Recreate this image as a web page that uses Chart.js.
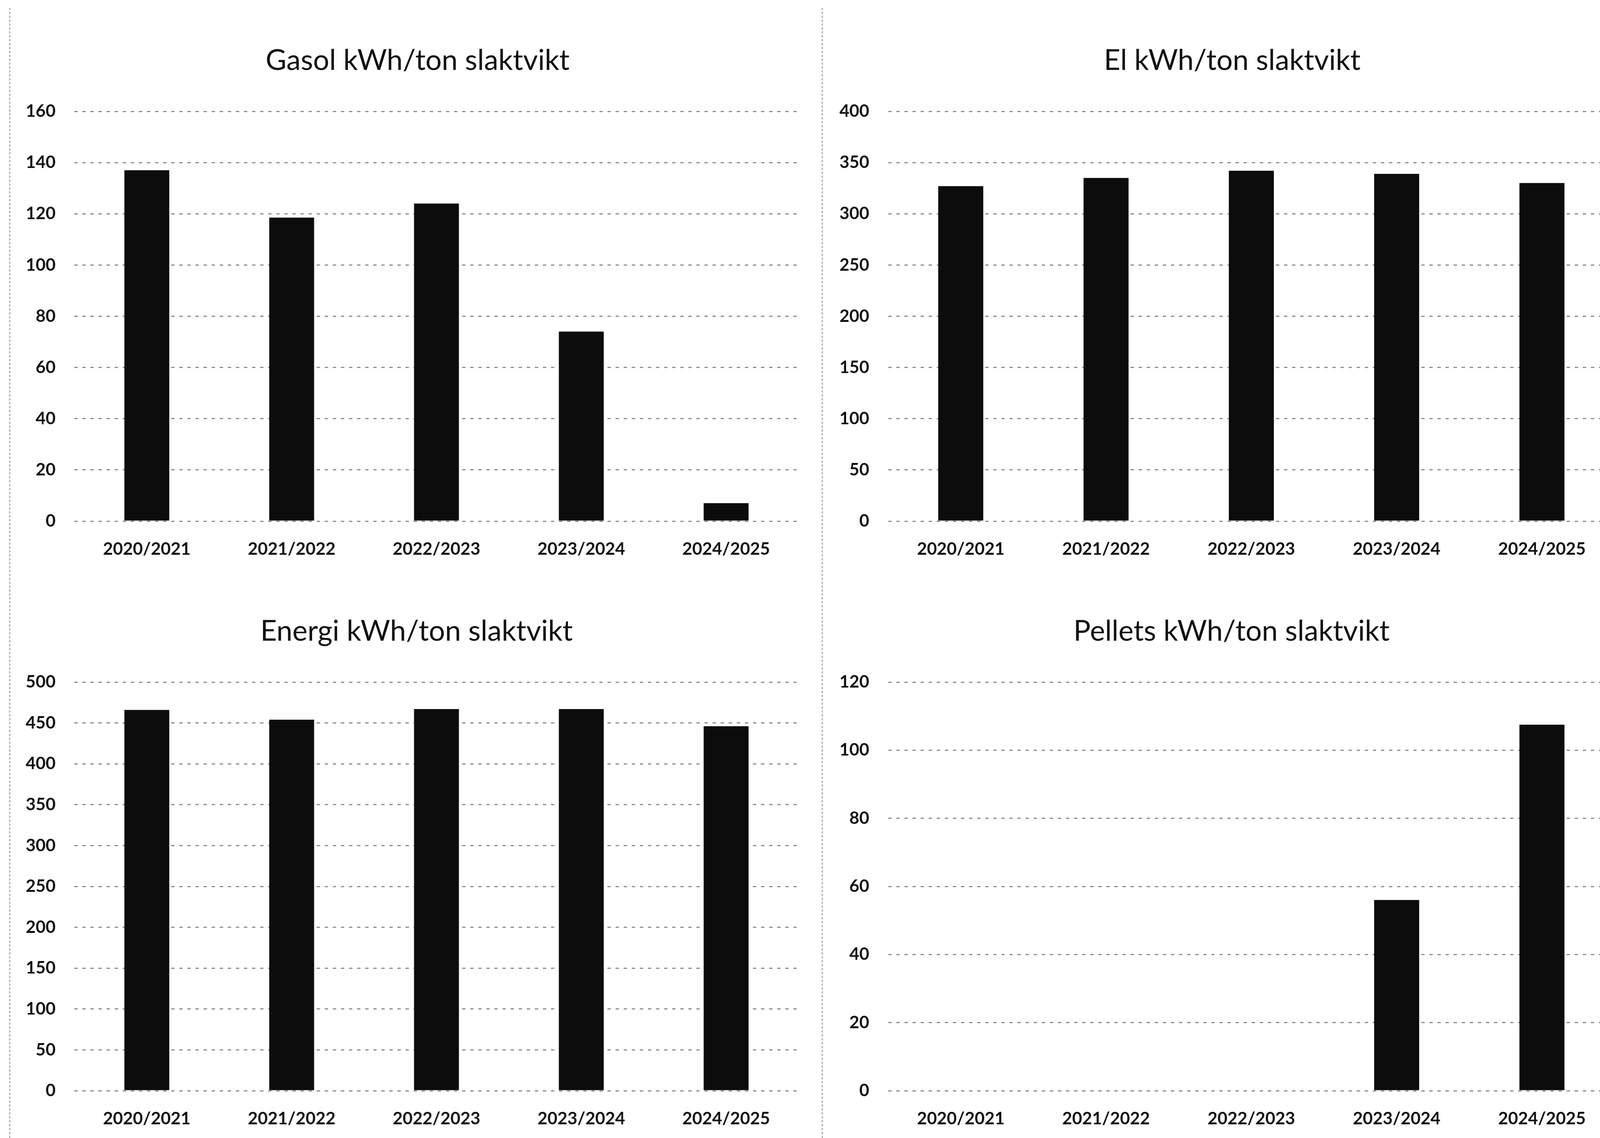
<!DOCTYPE html>
<html lang="sv">
<head>
<meta charset="utf-8">
<title>kWh/ton slaktvikt</title>
<script src="https://cdn.jsdelivr.net/npm/chart.js@4/dist/chart.umd.min.js"></script>
<style>
html, body { margin: 0; padding: 0; background: #fff; width: 100%; height: 100%; overflow: hidden; position: relative; }
.box { position: absolute; }
.sep { position: absolute; width: 0; border-left-style: dashed; border-left-color: #8a8a8a; }
.rubrik { position: absolute; transform: translate(-50%, -50%); white-space: nowrap; line-height: 1;
          font-family: Lato, "Open Sans", sans-serif; color: #111; }
</style>
</head>
<body>
<script>
// Data avläst från diagrammen
const perioder = ['2020/2021', '2021/2022', '2022/2023', '2023/2024', '2024/2025'];
const gasol = [137, 118.5, 124, 74, 7];
const el = [327, 335, 342, 339, 330];
const energi = [466, 454, 467, 467, 446];
const pellets = [0, 0, 0, 56, 107.5];

// y-axlar: [max, steg]
const gasolAxel = [160, 20];
const elAxel = [400, 50];
const energiAxel = [500, 50];
const pelletsAxel = [120, 20];

const FONT = 'Lato, "Open Sans", sans-serif';

// layouten är mätt i 4755x2913, skala om till fönstret
const kx = window.innerWidth / 4755;
const ky = (window.innerHeight || 2913 * kx) / 2913;
const px = v => (v * kx) + 'px';
const py = v => (v * ky) + 'px';

function separator(x) {
    const d = document.createElement('div');
    d.className = 'sep';
    d.style.left = px(x);
    d.style.top = py(20);
    d.style.height = py(2893);
    d.style.borderLeftWidth = px(3);
    document.body.appendChild(d);
}

function criarGrafico(titulo, valores, axel, box, titelPos) {
    const div = document.createElement('div');
    div.className = 'box';
    div.style.left = px(box.left);
    div.style.top = py(box.top);
    div.style.width = px(box.width);
    div.style.height = py(box.height);
    const canvas = document.createElement('canvas');
    div.appendChild(canvas);
    document.body.appendChild(div);

    const t = document.createElement('div');
    t.className = 'rubrik';
    t.textContent = titulo;
    t.style.left = px(titelPos[0]);
    t.style.top = py(titelPos[1]);
    t.style.fontSize = px(85);
    document.body.appendChild(t);

    new Chart(canvas.getContext('2d'), {
        type: 'bar',
        data: {
            labels: perioder,
            datasets: [{
                data: valores,
                backgroundColor: '#0c0c0c',
                barPercentage: 0.31,
                categoryPercentage: 1
            }]
        },
        options: {
            responsive: true,
            maintainAspectRatio: false,
            animation: false,
            layout: { padding: { left: 0, right: 69 * kx, top: box.padTop * ky, bottom: 0 } },
            plugins: {
                legend: { display: false },
                tooltip: { enabled: false },
                title: { display: false }
            },
            scales: {
                x: {
                    grid: { display: false, drawTicks: false },
                    border: { display: false },
                    ticks: { color: '#111', font: { family: FONT, size: 51 * kx, weight: 'bold' }, padding: 45 * ky, maxRotation: 0 },
                    afterFit: s => { s.height = 120 * ky; }
                },
                y: {
                    min: 0,
                    max: axel[0],
                    ticks: { stepSize: axel[1], color: '#111', font: { family: FONT, size: 51 * kx, weight: 'bold' }, padding: 56 * kx },
                    grid: { color: '#8c8c8c', lineWidth: 3 * ky, drawTicks: false },
                    border: { display: false, dash: [10 * kx, 14 * kx] },
                    afterFit: s => { s.width = box.yWidth * kx; }
                }
            }
        }
    });
}

separator(28);
separator(2442);

criarGrafico('Gasol kWh/ton slaktvikt', gasol, gasolAxel,
    { left: 0, top: 0, width: 2441, height: 1454, padTop: 285, yWidth: 221 }, [1241, 152]);
criarGrafico('El kWh/ton slaktvikt', el, elAxel,
    { left: 2441, top: 0, width: 2426, height: 1454, padTop: 285, yWidth: 198 }, [3662, 152]);
criarGrafico('Energi kWh/ton slaktvikt', energi, energiAxel,
    { left: 0, top: 1460, width: 2441, height: 1452, padTop: 286, yWidth: 221 }, [1238, 1613]);
criarGrafico('Pellets kWh/ton slaktvikt', pellets, pelletsAxel,
    { left: 2441, top: 1460, width: 2426, height: 1452, padTop: 286, yWidth: 198 }, [3660, 1613]);
</script>
</body>
</html>
